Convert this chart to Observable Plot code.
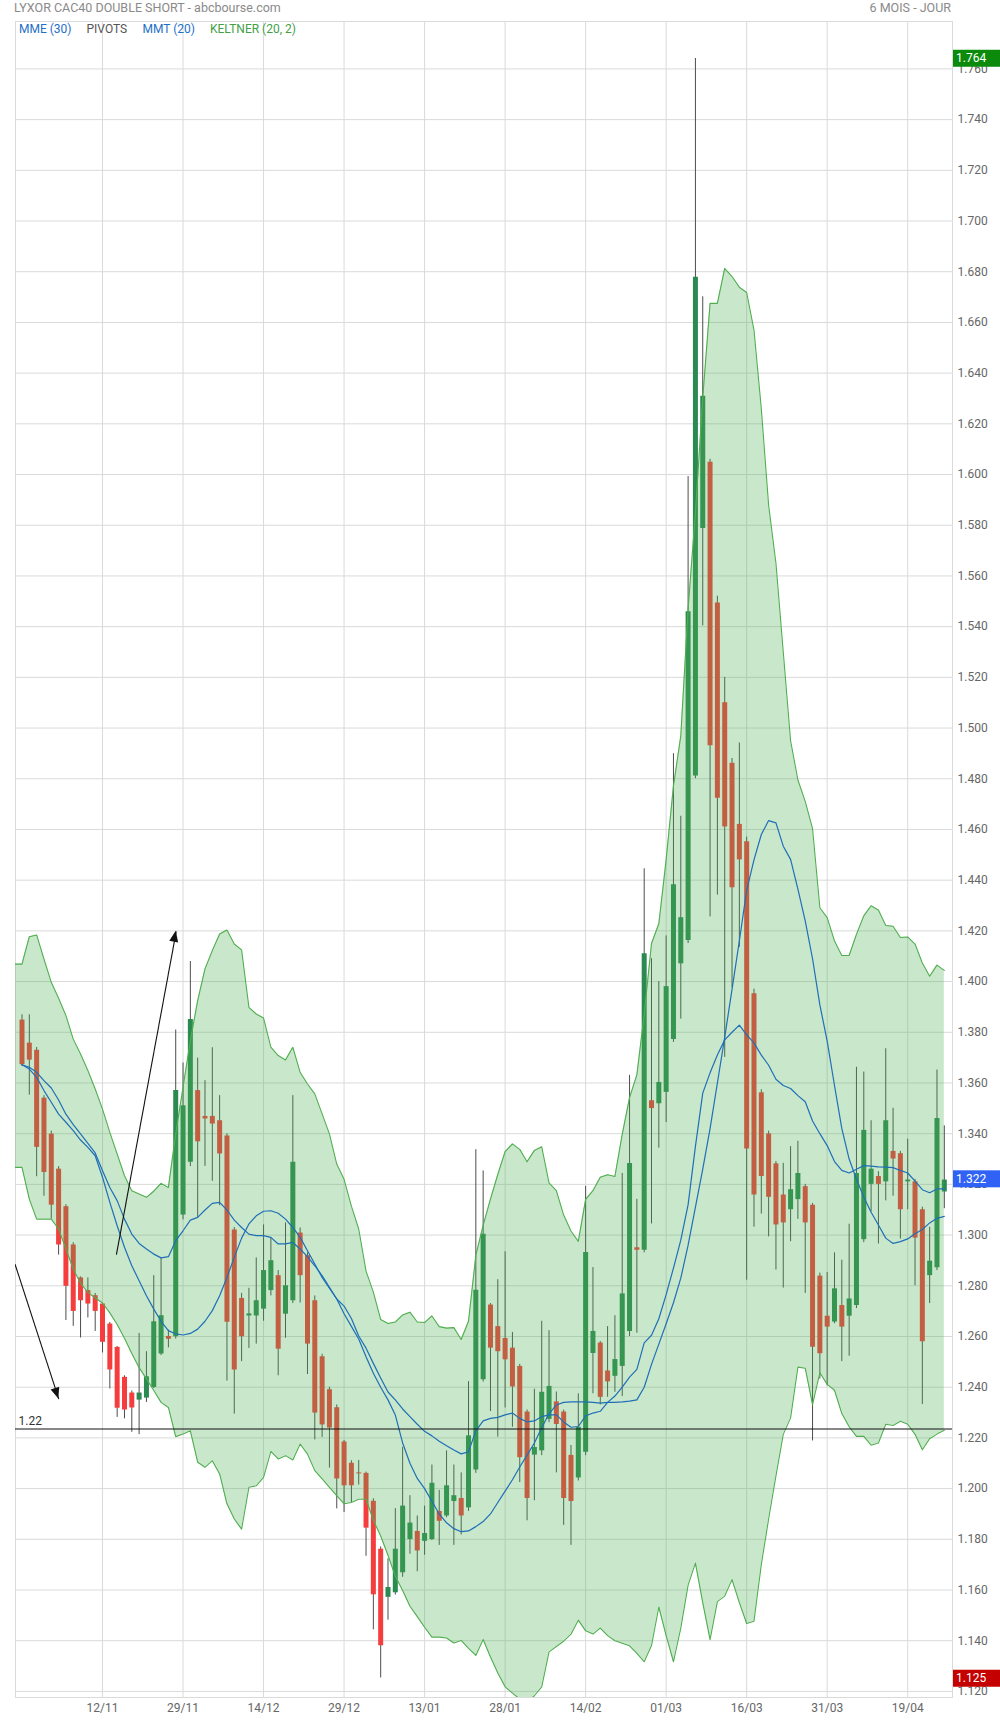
<!DOCTYPE html>
<html><head><meta charset="utf-8">
<script src="https://cdn.jsdelivr.net/npm/d3@7"></script>
<script src="https://cdn.jsdelivr.net/npm/@observablehq/plot@0.6"></script>
<style>
body{margin:0;background:#fff;font-family:Roboto,"Noto Sans",sans-serif;}
#wrap{position:relative;width:1000px;height:1720px;overflow:hidden;}
#wrap svg{position:absolute;left:0;top:0;}
.t{position:absolute;font-size:12.5px;white-space:nowrap;line-height:14px;}
</style></head><body><div id="wrap"></div>
<script>
// ---- data ----
const title = "LYXOR CAC40 DOUBLE SHORT - abcbourse.com";
const period = "6 MOIS - JOUR";
const legend = [["MME (30)","#1e6fc8"],["PIVOTS","#555555"],["MMT (20)","#1e6fc8"],["KELTNER (20, 2)","#43a047"]];
const days = ["28/10","29/10","01/11","02/11","03/11","04/11","05/11","08/11","09/11","10/11","11/11","12/11","15/11","16/11","17/11","18/11","19/11","22/11","23/11","24/11","25/11","26/11","29/11","30/11","01/12","02/12","03/12","06/12","07/12","08/12","09/12","10/12","13/12","14/12","15/12","16/12","17/12","20/12","21/12","22/12","23/12","24/12","27/12","28/12","29/12","30/12","31/12","03/01","04/01","05/01","06/01","07/01","10/01","11/01","12/01","13/01","14/01","17/01","18/01","19/01","20/01","21/01","24/01","25/01","26/01","27/01","28/01","31/01","01/02","02/02","03/02","04/02","07/02","08/02","09/02","10/02","11/02","14/02","15/02","16/02","17/02","18/02","21/02","22/02","23/02","24/02","25/02","28/02","01/03","02/03","03/03","04/03","07/03","08/03","09/03","10/03","11/03","14/03","15/03","16/03","17/03","18/03","21/03","22/03","23/03","24/03","25/03","28/03","29/03","30/03","31/03","01/04","04/04","05/04","06/04","07/04","08/04","11/04","12/04","13/04","14/04","19/04","20/04","21/04","22/04","25/04","26/04"];
const xTickLabels = ["12/11","29/11","14/12","29/12","13/01","28/01","14/02","01/03","16/03","31/03","19/04"];
const open = [1.3848,1.3757,1.3729,1.3540,1.3398,1.3260,1.3112,1.2961,1.2831,1.2781,1.2761,1.2728,1.2649,1.2557,1.2439,1.2377,1.2349,1.2357,1.2399,1.2531,1.2600,1.2599,1.3079,1.3287,1.3570,1.3468,1.3468,1.3451,1.3391,1.3020,1.2750,1.2681,1.2681,1.2708,1.2781,1.2840,1.2688,1.2741,1.3008,1.2919,1.2741,1.2520,1.2390,1.2319,1.2184,1.2100,1.2062,1.2060,1.1950,1.1761,1.1571,1.1589,1.1668,1.1799,1.1831,1.1792,1.1799,1.1910,1.1892,1.1949,1.1961,1.1924,1.2073,1.2429,1.2724,1.2639,1.2592,1.2554,1.2482,1.2302,1.2132,1.2149,1.2273,1.2342,1.2302,1.2131,1.2042,1.2143,1.2533,1.2574,1.2464,1.2443,1.2482,1.2620,1.2950,1.2940,1.3530,1.3518,1.3563,1.3771,1.4070,1.4162,1.4811,1.5787,1.6048,1.5493,1.5100,1.4861,1.4620,1.4552,1.3952,1.3561,1.3399,1.3281,1.3158,1.3100,1.3140,1.3191,1.3118,1.2838,1.2680,1.2657,1.2722,1.2680,1.2722,1.2982,1.3200,1.3231,1.3210,1.3330,1.3321,1.3210,1.3210,1.3100,1.2840,1.2871,1.3170];
const high = [1.3869,1.3869,1.3740,1.3550,1.3410,1.3270,1.3120,1.2970,1.2835,1.2831,1.2770,1.2730,1.2655,1.2560,1.2445,1.2385,1.2612,1.2540,1.2840,1.2910,1.2625,1.3809,1.3679,1.4079,1.3698,1.3609,1.3739,1.3550,1.3400,1.3030,1.2770,1.2790,1.2910,1.3040,1.2988,1.2860,1.3048,1.3550,1.3028,1.2930,1.2760,1.2530,1.2400,1.2330,1.2190,1.2110,1.2111,1.2065,1.1960,1.1770,1.1723,1.1921,1.2163,1.1972,1.1892,1.1931,1.2093,1.1993,1.2149,1.2093,1.2062,1.2422,1.3337,1.3253,1.2730,1.2824,1.2934,1.2616,1.2490,1.2310,1.2392,1.2660,1.2623,1.2381,1.2310,1.2170,1.2374,1.3192,1.2872,1.2580,1.2639,1.2682,1.3243,1.3630,1.3141,1.4445,1.4090,1.4000,1.4180,1.4899,1.4652,1.5992,1.7641,1.6701,1.6060,1.5520,1.5200,1.4880,1.4941,1.4570,1.3970,1.3573,1.3410,1.3290,1.3283,1.3349,1.3370,1.3200,1.3125,1.2850,1.2852,1.2930,1.2901,1.3043,1.3662,1.3643,1.3451,1.3250,1.3735,1.3500,1.3330,1.3378,1.3220,1.3110,1.3031,1.3651,1.3431];
const low = [1.3665,1.3552,1.3230,1.3153,1.3063,1.2921,1.2663,1.2640,1.2594,1.2673,1.2620,1.2535,1.2393,1.2281,1.2275,1.2222,1.2213,1.2340,1.2395,1.2525,1.2555,1.2590,1.3060,1.3270,1.3070,1.3271,1.3212,1.3116,1.2424,1.2294,1.2501,1.2553,1.2570,1.2660,1.2760,1.2445,1.2593,1.2730,1.2732,1.2450,1.2192,1.2202,1.2081,1.1920,1.1906,1.1945,1.2014,1.1733,1.1443,1.1253,1.1481,1.1580,1.1650,1.1741,1.1672,1.1737,1.1795,1.1776,1.1885,1.1776,1.1817,1.1910,1.2060,1.2420,1.2304,1.2203,1.2318,1.2242,1.2024,1.1873,1.1952,1.2130,1.2260,1.2062,1.1855,1.1776,1.2030,1.2130,1.2374,1.2330,1.2360,1.2380,1.2363,1.2600,1.2613,1.2930,1.3044,1.3343,1.3444,1.3760,1.3852,1.4150,1.4800,1.5403,1.4255,1.4341,1.3701,1.3976,1.4135,1.2822,1.3031,1.3083,1.2993,1.2862,1.2791,1.2974,1.3062,1.2770,1.2188,1.2432,1.2405,1.2650,1.2501,1.2522,1.2710,1.2970,1.3092,1.2965,1.3135,1.3153,1.2984,1.3100,1.2800,1.2332,1.2730,1.2860,1.3104];
const close = [1.3672,1.3690,1.3346,1.3247,1.3118,1.2961,1.2798,1.2699,1.2741,1.2728,1.2699,1.2577,1.2468,1.2317,1.2310,1.2318,1.2377,1.2441,1.2658,1.2682,1.2589,1.3570,1.3510,1.3850,1.3368,1.3458,1.3438,1.3320,1.2656,1.2468,1.2599,1.2689,1.2741,1.2860,1.2899,1.2550,1.2800,1.3287,1.2840,1.2570,1.2298,1.2251,1.2239,1.2038,1.2011,1.2011,1.2058,1.1844,1.1581,1.1380,1.1610,1.1761,1.1931,1.1864,1.1754,1.1823,1.2021,1.1871,1.2011,1.1972,1.1892,1.2208,1.2782,1.3003,1.2554,1.2540,1.2508,1.2401,1.2122,1.1961,1.2162,1.2380,1.2403,1.2253,1.1961,1.1949,1.2242,1.2931,1.2620,1.2360,1.2421,1.2509,1.2768,1.3282,1.2940,1.4110,1.3499,1.3602,1.3980,1.4382,1.4252,1.5459,1.6778,1.6309,1.4930,1.4723,1.4610,1.4370,1.4480,1.3340,1.3158,1.3231,1.3149,1.3040,1.3048,1.3179,1.3243,1.3048,1.2558,1.2532,1.2637,1.2788,1.2637,1.2748,1.3243,1.3413,1.3260,1.3200,1.3451,1.3300,1.3100,1.3217,1.2988,1.2579,1.2897,1.3460,1.3217];
const keltnerUp = [1.4069,1.4177,1.4184,1.4089,1.3997,1.3934,1.3866,1.3773,1.3714,1.3649,1.3576,1.3497,1.3405,1.3320,1.3234,1.3175,1.3162,1.3149,1.3173,1.3204,1.3188,1.3399,1.3583,1.3767,1.3925,1.4050,1.4122,1.4188,1.4203,1.4148,1.4125,1.3898,1.3872,1.3856,1.3741,1.3708,1.3691,1.3741,1.3642,1.3596,1.3557,1.3478,1.3399,1.3280,1.3220,1.3114,1.3024,1.2858,1.2775,1.2667,1.2651,1.2657,1.2685,1.2696,1.2657,1.2655,1.2681,1.2639,1.2633,1.2635,1.2588,1.2660,1.2920,1.3038,1.3142,1.3239,1.3329,1.3360,1.3338,1.3289,1.3334,1.3348,1.3206,1.3175,1.3079,1.3016,1.2975,1.3141,1.3175,1.3228,1.3238,1.3231,1.3397,1.3542,1.3632,1.3870,1.4150,1.4228,1.4480,1.4772,1.4969,1.5470,1.5850,1.6302,1.6675,1.6675,1.6813,1.6781,1.6739,1.6718,1.6570,1.6260,1.5879,1.5650,1.5300,1.4950,1.4795,1.4711,1.4603,1.4291,1.4252,1.4160,1.4103,1.4103,1.4186,1.4259,1.4299,1.4282,1.4221,1.4218,1.4174,1.4176,1.4148,1.4073,1.4021,1.4065,1.4044];
const keltnerLow = [1.3267,1.3142,1.3063,1.3063,1.3063,1.3024,1.2945,1.2866,1.2810,1.2774,1.2752,1.2732,1.2693,1.2647,1.2593,1.2533,1.2477,1.2433,1.2387,1.2340,1.2320,1.2205,1.2215,1.2228,1.2104,1.2084,1.2110,1.2058,1.1940,1.1880,1.1840,1.2005,1.2011,1.2044,1.2147,1.2117,1.2130,1.2113,1.2176,1.2136,1.2071,1.2038,1.2005,1.1972,1.1940,1.1945,1.1958,1.1958,1.1875,1.1813,1.1737,1.1654,1.1598,1.1536,1.1495,1.1453,1.1414,1.1414,1.1411,1.1391,1.1401,1.1370,1.1342,1.1405,1.1336,1.1273,1.1218,1.1193,1.1170,1.1160,1.1183,1.1218,1.1356,1.1377,1.1398,1.1426,1.1481,1.1439,1.1426,1.1450,1.1420,1.1400,1.1390,1.1380,1.1350,1.1317,1.1381,1.1533,1.1420,1.1317,1.1450,1.1619,1.1706,1.1550,1.1404,1.1554,1.1576,1.1641,1.1550,1.1468,1.1477,1.1700,1.1880,1.2050,1.2214,1.2279,1.2479,1.2475,1.2331,1.2457,1.2411,1.2388,1.2296,1.2244,1.2206,1.2206,1.2171,1.2180,1.2254,1.2249,1.2266,1.2254,1.2214,1.2153,1.2197,1.2215,1.2230];
const mme30 = [1.3672,1.3662,1.3642,1.3609,1.3580,1.3533,1.3477,1.3436,1.3399,1.3362,1.3324,1.3254,1.3188,1.3136,1.3063,1.3004,1.2967,1.2945,1.2925,1.2910,1.2915,1.2978,1.3017,1.3059,1.3070,1.3099,1.3125,1.3129,1.3099,1.3059,1.3030,1.3004,1.2998,1.2998,1.2991,1.2965,1.2965,1.2971,1.2945,1.2915,1.2879,1.2840,1.2794,1.2748,1.2720,1.2671,1.2602,1.2554,1.2494,1.2436,1.2381,1.2350,1.2314,1.2284,1.2254,1.2226,1.2208,1.2187,1.2169,1.2152,1.2137,1.2145,1.2228,1.2267,1.2277,1.2281,1.2291,1.2298,1.2277,1.2263,1.2267,1.2284,1.2291,1.2291,1.2263,1.2242,1.2245,1.2287,1.2298,1.2305,1.2340,1.2365,1.2400,1.2440,1.2470,1.2575,1.2605,1.2670,1.2765,1.2870,1.2980,1.3120,1.3350,1.3560,1.3640,1.3710,1.3770,1.3800,1.3828,1.3790,1.3758,1.3710,1.3670,1.3615,1.3590,1.3578,1.3550,1.3526,1.3450,1.3400,1.3353,1.3290,1.3255,1.3245,1.3260,1.3274,1.3272,1.3269,1.3268,1.3266,1.3255,1.3245,1.3213,1.3179,1.3167,1.3182,1.3182];
const mmt20 = [1.3672,1.3655,1.3622,1.3570,1.3524,1.3477,1.3445,1.3412,1.3375,1.3346,1.3313,1.3228,1.3129,1.3037,1.2952,1.2879,1.2820,1.2761,1.2708,1.2660,1.2623,1.2610,1.2606,1.2612,1.2629,1.2660,1.2702,1.2761,1.2833,1.2912,1.2988,1.3044,1.3076,1.3094,1.3096,1.3086,1.3063,1.3030,1.2991,1.2938,1.2886,1.2833,1.2791,1.2748,1.2690,1.2640,1.2590,1.2520,1.2455,1.2400,1.2350,1.2290,1.2180,1.2100,1.2040,1.2000,1.1950,1.1900,1.1865,1.1842,1.1830,1.1833,1.1850,1.1870,1.1900,1.1945,1.1990,1.2035,1.2085,1.2132,1.2180,1.2240,1.2295,1.2330,1.2340,1.2342,1.2342,1.2342,1.2340,1.2337,1.2340,1.2340,1.2342,1.2345,1.2350,1.2400,1.2490,1.2570,1.2650,1.2733,1.2830,1.2960,1.3110,1.3260,1.3420,1.3600,1.3780,1.3969,1.4160,1.4360,1.4480,1.4580,1.4635,1.4626,1.4534,1.4482,1.4365,1.4239,1.4090,1.3908,1.3765,1.3590,1.3420,1.3300,1.3220,1.3150,1.3090,1.3040,1.2988,1.2967,1.2974,1.2985,1.3005,1.3022,1.3048,1.3066,1.3074];
const supportLevel = 1.2235, supportLabel = "1.22";
const arrowsFrom = [[12.9, 1.2923], [-0.95, 1.2885]];
const arrowsTo = [[21.07, 1.4198], [5.03, 1.2353]];
const periodHigh = 1.764, periodLow = 1.125, lastClose = 1.322;

// ---- build ----
const GREEN = "#2b8a52", RED = "#f53d3d";
const rows = days.map((d, i) => ({i, d, o: open[i], h: high[i], l: low[i], c: close[i], up: keltnerUp[i], lo: keltnerLow[i], ema: mme30[i], tma: mmt20[i]}));
const band = [{i: -1, up: keltnerUp[0], lo: keltnerLow[0]}, ...rows];
const xTicks = xTickLabels.map(l => days.indexOf(l));
const yTicks = d3.range(56, 177, 2).map(k => k / 100).filter(v => v >= 1.12 && v <= 1.76);
const arrows = arrowsFrom.map((f, k) => ({x1: f[0], y1: f[1], x2: arrowsTo[k][0], y2: arrowsTo[k][1]}));

const chart = Plot.plot({
  width: 1000, height: 1720,
  marginTop: 21, marginBottom: 23, marginLeft: 15, marginRight: 48,
  style: {fontFamily: "Roboto, sans-serif", fontSize: "12px", color: "#666", background: "transparent", overflow: "visible"},
  x: {type: "linear", domain: [-0.888, 127.12]},
  y: {domain: [1.1176, 1.7787]},
  marks: [
    Plot.gridY(yTicks, {stroke: "#dadada", strokeOpacity: 1}),
    Plot.gridX(xTicks, {stroke: "#dadada", strokeOpacity: 1}),
    Plot.frame({stroke: "#dadada"}),
    Plot.ruleX(rows, {x: "i", y1: "l", y2: "h", stroke: "#4d4d4d", strokeWidth: 1}),
    Plot.ruleX(rows, {x: "i", y1: "o", y2: "c", stroke: d => d.c >= d.o ? GREEN : RED, strokeWidth: 5}),
    Plot.areaY(band, {x: "i", y1: "lo", y2: "up", fill: "#4caf50", fillOpacity: 0.3, clip: true}),
    Plot.line(band, {x: "i", y: "up", stroke: "#4fae4f", strokeWidth: 1.1, clip: true}),
    Plot.line(band, {x: "i", y: "lo", stroke: "#4fae4f", strokeWidth: 1.1, clip: true}),
    Plot.line(rows, {x: "i", y: "ema", stroke: "#1f6fb8", strokeWidth: 1.2}),
    Plot.line(rows, {x: "i", y: "tma", stroke: "#1f6fb8", strokeWidth: 1.2}),
    Plot.ruleY([supportLevel], {stroke: "#111", strokeWidth: 1.1}),
    Plot.text([supportLevel], {y: d => d, text: () => supportLabel, frameAnchor: "left", textAnchor: "start", dx: 3, dy: -8, fill: "#333", fontSize: 12}),
    Plot.link(arrows, {x1: "x1", y1: "y1", x2: "x2", y2: "y2", stroke: "#111", strokeWidth: 1.1, clip: true}),
    Plot.axisY(yTicks, {anchor: "right", tickSize: 0, tickPadding: 5, tickFormat: d3.format(".3f"), fontSize: 12, fill: "#666"}),
    Plot.axisX(xTicks, {anchor: "bottom", tickSize: 0, tickPadding: 6, tickFormat: i => days[i], fontSize: 12, fill: "#666"})
  ]
});
const wrap = document.getElementById("wrap");
wrap.appendChild(chart);

// arrow heads and value boxes, positioned with the plot's own scales
const sx = chart.scale("x"), sy = chart.scale("y");
const svg = d3.select(chart);
arrows.forEach(a => {
  const X1 = sx.apply(a.x1), Y1 = sy.apply(a.y1), X2 = sx.apply(a.x2), Y2 = sy.apply(a.y2);
  const ang = Math.atan2(Y2 - Y1, X2 - X1), L = 11, Wd = 4.5;
  const bx = X2 - L * Math.cos(ang), by = Y2 - L * Math.sin(ang);
  const px = -Math.sin(ang) * Wd, py = Math.cos(ang) * Wd;
  svg.append("path").attr("d", `M${X2},${Y2}L${bx + px},${by + py}L${bx - px},${by - py}Z`).attr("fill", "#111");
});
[[periodHigh, "#0b8a0b"], [periodLow, "#c40000"], [lastClose, "#2f62f5"]].forEach(([v, col]) => {
  const Y = sy.apply(v), X = sx.apply(127.12);
  const g = svg.append("g");
  g.append("rect").attr("x", X + 1).attr("y", Y - 8.5).attr("width", 1000 - X).attr("height", 17).attr("fill", col);
  g.append("text").attr("x", X + 4).attr("y", Y).attr("dy", "0.35em").attr("text-anchor", "start")
    .attr("fill", "#fff").attr("font-size", 12).attr("font-family", "Roboto, sans-serif").text(d3.format(".3f")(v));
});

// header texts
function addText(txt, css, color) {
  const s = document.createElement("span");
  s.className = "t"; s.textContent = txt; s.style.color = color;
  Object.assign(s.style, css); wrap.appendChild(s);
}
addText(title, {left: "14px", top: "1px"}, "#8a8a8a");
addText(period, {right: "49px", top: "1px"}, "#8a8a8a");
const legendX = [19, 86.5, 142.5, 210];
legend.forEach(([t, c], k) => addText(t, {left: legendX[k] + "px", top: "22px", fontSize: "12px"}, c));
</script></body></html>
